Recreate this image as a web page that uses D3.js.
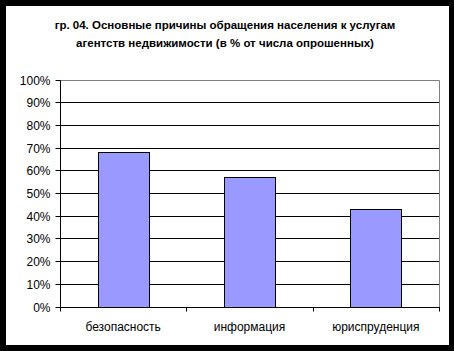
<!DOCTYPE html>
<html>
<head>
<meta charset="utf-8">
<script src="https://cdn.jsdelivr.net/npm/d3@7"></script>
<style>
  body { margin: 0; background: #000; }
  svg { display: block; }
</style>
</head>
<body>
<div id="chart"></div>
<script>
// chart data
var categories = ['безопасность', 'информация', 'юриспруденция'];
var values = [0.68, 0.57, 0.43];
var yTicks = [0, 0.1, 0.2, 0.3, 0.4, 0.5, 0.6, 0.7, 0.8, 0.9, 1.0];
var titleLines = [
  'гр. 04. Основные причины обращения населения к услугам',
  'агентств недвижимости (в % от числа опрошенных)'
];

var w = 454,
    h = 351;

var svg = d3.select('#chart').append('svg')
    .attr('width', w)
    .attr('height', h);

// black frame, white chart area
svg.append('rect')
    .attr('x', 0).attr('y', 0)
    .attr('width', w).attr('height', h)
    .attr('fill', '#000');
svg.append('rect')
    .attr('x', 6).attr('y', 6)
    .attr('width', 443).attr('height', 339)
    .attr('fill', '#fff');

// title
svg.append('g').selectAll('text')
    .data(titleLines)
    .enter()
    .append('text')
    .attr('x', 225)
    .attr('y', function(d, i) { return 28.5 + i * 18; })
    .attr('text-anchor', 'middle')
    .attr('font-family', 'Liberation Sans, Arial, sans-serif')
    .attr('font-weight', 'bold')
    .attr('font-size', '11.5px')
    .attr('fill', '#000')
    .text(function(d) { return d; });

var plotLeft = 60, plotRight = 439, plotTop = 79.5, plotBottom = 306.5;

var x = d3.scaleBand()
    .domain(categories)
    .range([plotLeft, plotRight])
    .paddingInner(0.595)
    .paddingOuter(0.2975);

var y = d3.scaleLinear()
    .domain([0, 1])
    .range([plotBottom, plotTop]);

function py(v) { return Math.round(y(v)) + 0.5; }

// gridlines
svg.append('g').selectAll('line')
    .data(yTicks.filter(function(d) { return d > 0 && d < 1; }))
    .enter()
    .append('line')
    .attr('x1', plotLeft).attr('x2', plotRight)
    .attr('y1', py)
    .attr('y2', py)
    .attr('stroke', '#000')
    .attr('stroke-width', 1);

// plot area border (top and right, gray)
svg.append('path')
    .attr('d', 'M' + plotLeft + ',' + py(1) + 'H' + (plotRight + 0.5) + 'V' + py(0))
    .attr('fill', 'none')
    .attr('stroke', '#808080')
    .attr('stroke-width', 1);

// bars
svg.append('g').selectAll('rect')
    .data(values)
    .enter()
    .append('rect')
    .attr('x', function(d, i) { return Math.round(x(categories[i])) + 0.5; })
    .attr('y', function(d) { return py(d); })
    .attr('width', Math.round(x.bandwidth()))
    .attr('height', function(d) { return py(0) - py(d); })
    .attr('fill', '#9999ff')
    .attr('stroke', '#000')
    .attr('stroke-width', 1);

// y axis
var yAxis = svg.append('g')
    .attr('transform', 'translate(' + (plotLeft + 0.5) + ',0)');
yAxis.append('line')
    .attr('x1', 0).attr('x2', 0)
    .attr('y1', py(1)).attr('y2', py(0))
    .attr('stroke', '#000');
var yt = yAxis.selectAll('g.tick')
    .data(yTicks)
    .enter()
    .append('g')
    .attr('class', 'tick')
    .attr('transform', function(d) { return 'translate(0,' + py(d) + ')'; });
yt.append('line')
    .attr('x1', -5).attr('x2', 0)
    .attr('stroke', '#000');
yt.append('text')
    .attr('x', -10)
    .attr('dy', '0.35em')
    .attr('text-anchor', 'end')
    .attr('font-family', 'Liberation Sans, Arial, sans-serif')
    .attr('font-size', '12px')
    .attr('fill', '#000')
    .text(d3.format('.0%'));

// x axis
var step = x.step();
var bounds = d3.range(categories.length + 1).map(function(i) { return plotLeft + i * step; });
var xAxis = svg.append('g')
    .attr('transform', 'translate(0,' + py(0) + ')');
xAxis.append('line')
    .attr('x1', plotLeft).attr('x2', plotRight + 1)
    .attr('stroke', '#000');
xAxis.selectAll('line.tick')
    .data(bounds)
    .enter()
    .append('line')
    .attr('class', 'tick')
    .attr('x1', function(d) { return Math.round(d) + 0.5; })
    .attr('x2', function(d) { return Math.round(d) + 0.5; })
    .attr('y1', 0).attr('y2', 4)
    .attr('stroke', '#000');
xAxis.selectAll('text')
    .data(categories)
    .enter()
    .append('text')
    .attr('x', function(d) { return x(d) + x.bandwidth() / 2; })
    .attr('y', 23)
    .attr('text-anchor', 'middle')
    .attr('font-family', 'Liberation Sans, Arial, sans-serif')
    .attr('font-size', '12px')
    .attr('fill', '#000')
    .text(function(d) { return d; });
</script>
</body>
</html>
